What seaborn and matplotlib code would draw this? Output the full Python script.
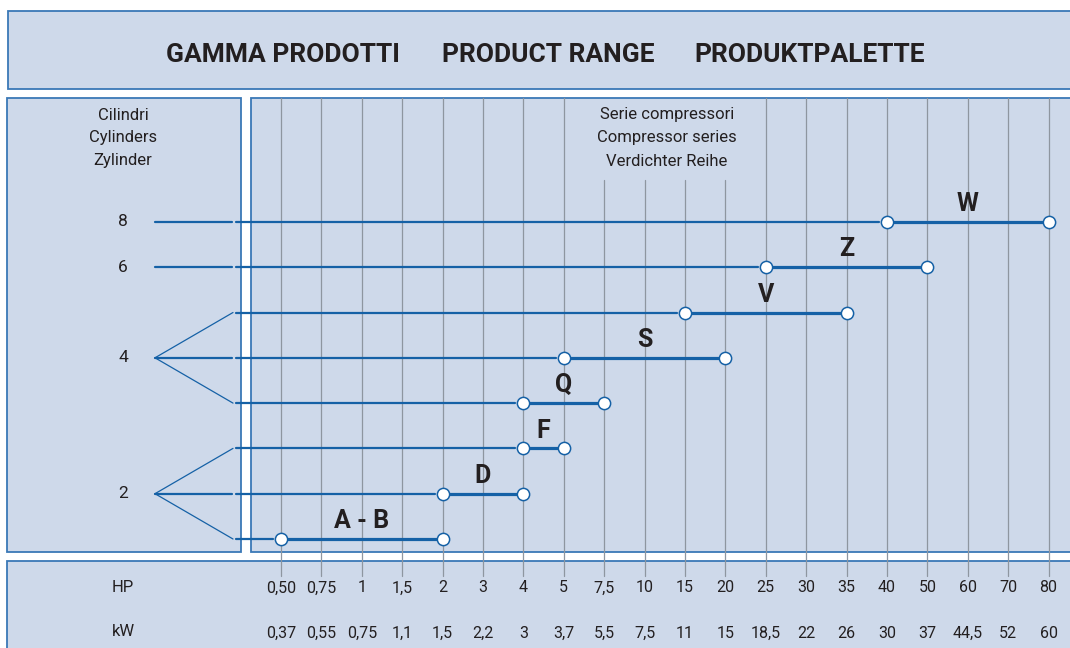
import pandas as pd
import matplotlib
matplotlib.use("Agg")
import matplotlib.pyplot as plt
import seaborn as sns
from matplotlib.patches import Rectangle

# data
hp_labels = ["0,50", "0,75", "1", "1,5", "2", "3", "4", "5", "7,5", "10",
             "15", "20", "25", "30", "35", "40", "50", "60", "70", "80"]
kw_labels = ["0,37", "0,55", "0,75", "1,1", "1,5", "2,2", "3", "3,7", "5,5", "7,5",
             "11", "15", "18,5", "22", "26", "30", "37", "44,5", "52", "60"]
series = ["A - B", "D", "F", "Q", "S", "V", "Z", "W"]
hp_from = ["0,50", "2", "4", "4", "5", "15", "25", "40"]
hp_to = ["2", "4", "5", "7,5", "20", "35", "50", "80"]
cylinders = [2, 2, 2, 4, 4, 4, 6, 8]

sns.set_style("white")
plt.rcParams["font.family"] = ["Roboto", "DejaVu Sans"]

BLUE = "#1561a6"
FILL = "#ced9ea"
EDGE = "#3a78b6"
GRID = "#8e96a0"
INK = "#231f20"

W, H = 1070, 648
fig = plt.figure(figsize=(W / 100, H / 100), dpi=100)
ax = fig.add_axes([0, 0, 1, 1])

# one category step = 40.4 px, one row = 45.3 px
x0, dx = 281, 40.4
y0, dy = 539, 45.3
ax.set_xlim(-x0 / dx, (W - x0) / dx)
ax.set_ylim(-(H - y0) / dy, y0 / dy)
ax.axis("off")


def X(px):
    return (px - x0) / dx


def Y(py):
    return (y0 - py) / dy


# background panels
for (l, t, r, b) in [(8, 11, 1080, 89), (7, 98, 241, 552), (251, 98, 1080, 552), (7, 561, 1080, 660)]:
    ax.add_patch(Rectangle((X(l), Y(b)), X(r) - X(l), Y(t) - Y(b),
                           facecolor=FILL, edgecolor=EDGE, lw=1.3, zorder=0))

# vertical grid lines, shortened below the header text
for i, lab in enumerate(hp_labels):
    top = 180 if lab in ["7,5", "10", "15", "20"] else 98
    ax.plot([i, i], [Y(top), Y(576)], color=GRID, lw=0.9, zorder=1)

# segments per series
idx = {lab: i for i, lab in enumerate(hp_labels)}
rows = list(range(len(series)))
groups = {}
for r, c in zip(rows, cylinders):
    groups.setdefault(c, []).append(r)

thin = []
fans = []
for c, rs in groups.items():
    mid = rs[len(rs) // 2]
    ax.text(X(123), mid, str(c), ha="center", va="center", fontsize=12.5, color=INK)
    thin.append((f"l{c}", X(155), mid))
    thin.append((f"l{c}", X(232), mid))
    for r in rs:
        if r != mid:
            fans.append((f"f{r}", X(155), mid))
            fans.append((f"f{r}", X(233), r))

for r in rows:
    a = idx[hp_from[r]]
    thin.append((f"m{r}", X(236), r))
    thin.append((f"m{r}", a - 0.2, r))

thin_df = pd.DataFrame(thin, columns=["seg", "x", "y"])
fan_df = pd.DataFrame(fans, columns=["seg", "x", "y"])
sns.lineplot(data=thin_df, x="x", y="y", units="seg", estimator=None, sort=False,
             color=BLUE, lw=1.6, ax=ax, zorder=3)
sns.lineplot(data=fan_df, x="x", y="y", units="seg", estimator=None, sort=False,
             color=BLUE, lw=0.9, ax=ax, zorder=3)

thick = pd.DataFrame({
    "seg": series * 2,
    "x": [idx[v] for v in hp_from] + [idx[v] for v in hp_to],
    "y": rows * 2,
})
sns.lineplot(data=thick, x="x", y="y", units="seg", estimator=None, sort=False,
             color=BLUE, lw=2.3, ax=ax, zorder=4)
sns.scatterplot(data=thick, x="x", y="y", s=78, color="white", edgecolor=BLUE,
                linewidth=1.1, ax=ax, zorder=5, legend=False)

for r, name in enumerate(series):
    mid = (idx[hp_from[r]] + idx[hp_to[r]]) / 2
    ax.text(mid, r + 0.13, name, ha="center", va="bottom", fontsize=18,
            fontweight="bold", color=INK)

# header texts
for xp, t in [(283, "GAMMA PRODOTTI"), (548, "PRODUCT RANGE"), (810, "PRODUKTPALETTE")]:
    ax.text(X(xp), Y(55), t, ha="center", va="center", fontsize=19,
            fontweight="bold", color=INK)
for yp, t in [(115, "Cilindri"), (138, "Cylinders"), (161, "Zylinder")]:
    ax.text(X(123), Y(yp), t, ha="center", va="center", fontsize=12, color=INK)
for yp, t in [(115, "Serie compressori"), (138, "Compressor series"), (161, "Verdichter Reihe")]:
    ax.text(X(667), Y(yp), t, ha="center", va="center", fontsize=12, color=INK)

# bottom scale
ax.text(X(123), Y(587), "HP", ha="center", va="center", fontsize=12, color=INK)
ax.text(X(123), Y(632), "kW", ha="center", va="center", fontsize=12, color=INK)
for i, (h, k) in enumerate(zip(hp_labels, kw_labels)):
    ax.text(i, Y(588), h, ha="center", va="center", fontsize=11.5, color=INK)
    ax.text(i, Y(633), k, ha="center", va="center", fontsize=11.5, color=INK)

fig.savefig("out.png", dpi=100)
